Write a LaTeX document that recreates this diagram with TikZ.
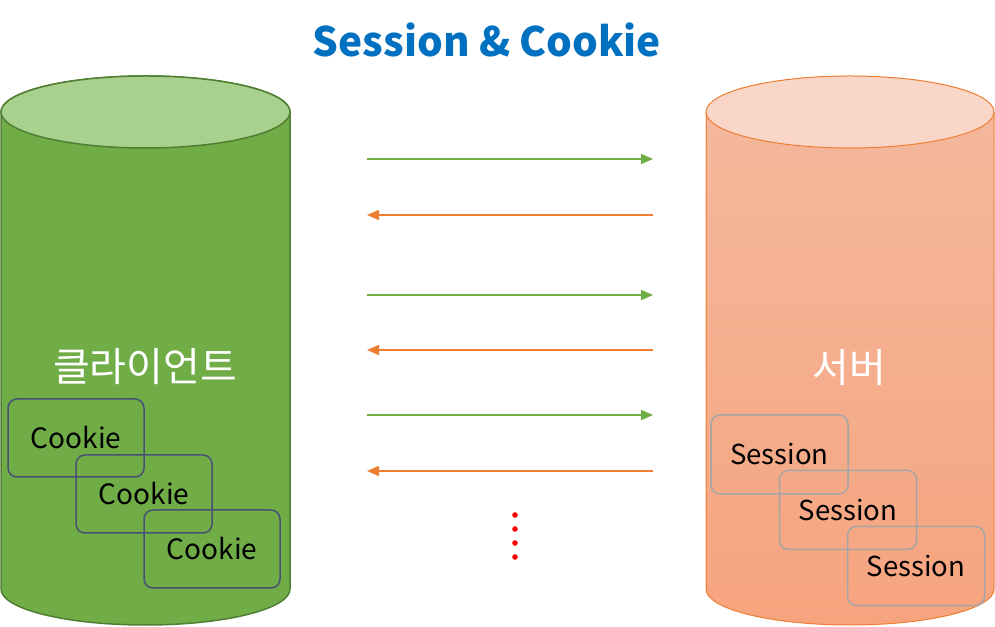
\documentclass[tikz,border=0pt]{standalone}
\usepackage{fontspec}
\setmainfont{Noto Sans CJK KR}
\usetikzlibrary{arrows.meta}
\definecolor{cligreen}{HTML}{70AD47}
\definecolor{clitop}{HTML}{A9D18E}
\definecolor{cliedge}{HTML}{507E32}
\definecolor{srvorange}{HTML}{ED7D31}
\definecolor{srvtop}{HTML}{F9D6C7}
\definecolor{srvhigh}{HTML}{F4B99F}
\definecolor{srvlow}{HTML}{F6A47E}
\definecolor{titleblue}{HTML}{0070C0}
\definecolor{cookieedge}{HTML}{475274}
\definecolor{sessionedge}{HTML}{A5A5A5}
\tikzset{
  cookiebox/.style={draw=cookieedge,line width=1.5pt,rounded corners=9pt,
    minimum width=136pt,minimum height=78pt,inner sep=0pt,font=\fontsize{28}{32}\selectfont},
  sessionbox/.style={draw=sessionedge,line width=1.5pt,rounded corners=9pt,
    minimum width=137pt,minimum height=79pt,inner sep=0pt,font=\fontsize{27.5}{32}\selectfont},
  req/.style={draw=cligreen,line width=1.6pt,-{Triangle[length=12pt,width=10pt]}},
  resp/.style={draw=srvorange,line width=1.6pt,-{Triangle[length=12pt,width=10pt]}},
}
\begin{document}
\begin{tikzpicture}[x=1pt,y=1pt]
  \useasboundingbox (0,0) rectangle (995,626);
  %client
  \fill[cligreen,draw=cliedge,line width=1.5pt] (1,514) -- (1,37) arc (180:360:144.5 and 36) -- (290,514) arc (0:180:144.5 and 36) -- cycle;
  \draw[fill=clitop,draw=cliedge,line width=1.5pt] (145.5,514) ellipse (144.5 and 36);
  \node[text=white,font=\fontsize{40}{44}\selectfont] (client) at (145,259) {클라이언트};
  %server
  \shade[top color=srvhigh,bottom color=srvlow] (706,514) -- (706,37) arc (180:360:144 and 36) -- (994,514) arc (0:180:144 and 36) -- cycle;
  \draw[srvorange,line width=1pt] (706,514) -- (706,37) arc (180:360:144 and 36) -- (994,514);
  \draw[fill=srvtop,draw=srvorange,line width=1pt] (850,514) ellipse (144 and 36);
  \node[text=white,font=\fontsize{40}{44}\selectfont] (server) at (849,258) {서버};
  %title
  \node[text=titleblue,font=\fontsize{40.5}{44}\selectfont\bfseries] (title) at (487,586) {Session \& Cookie};
  %cookies
  \node[cookiebox] (cookie1) at (76,188) {Cookie};
  \node[cookiebox] (cookie2) at (144,132) {Cookie};
  \node[cookiebox] (cookie3) at (212,77) {Cookie};
  %sessions
  \node[sessionbox] (session1) at (779.5,171.5) {Session};
  \node[sessionbox] (session2) at (848,116) {Session};
  \node[sessionbox] (session3) at (916,60) {Session};
  %messages
  \foreach \i/\ya/\yb in {1/467/411,2/331/276,3/211/155}{
    \coordinate (cl\i a) at (367,\ya);
    \coordinate (sv\i a) at (653,\ya);
    \coordinate (cl\i b) at (367,\yb);
    \coordinate (sv\i b) at (653,\yb);
    \draw[req] (cl\i a) -- (sv\i a);
    \draw[resp] (sv\i b) -- (cl\i b);
  }
  %more
  \foreach \y in {111,97,83,69}
    \fill[red] (515,\y) circle (2.8pt);
\end{tikzpicture}
\end{document}
